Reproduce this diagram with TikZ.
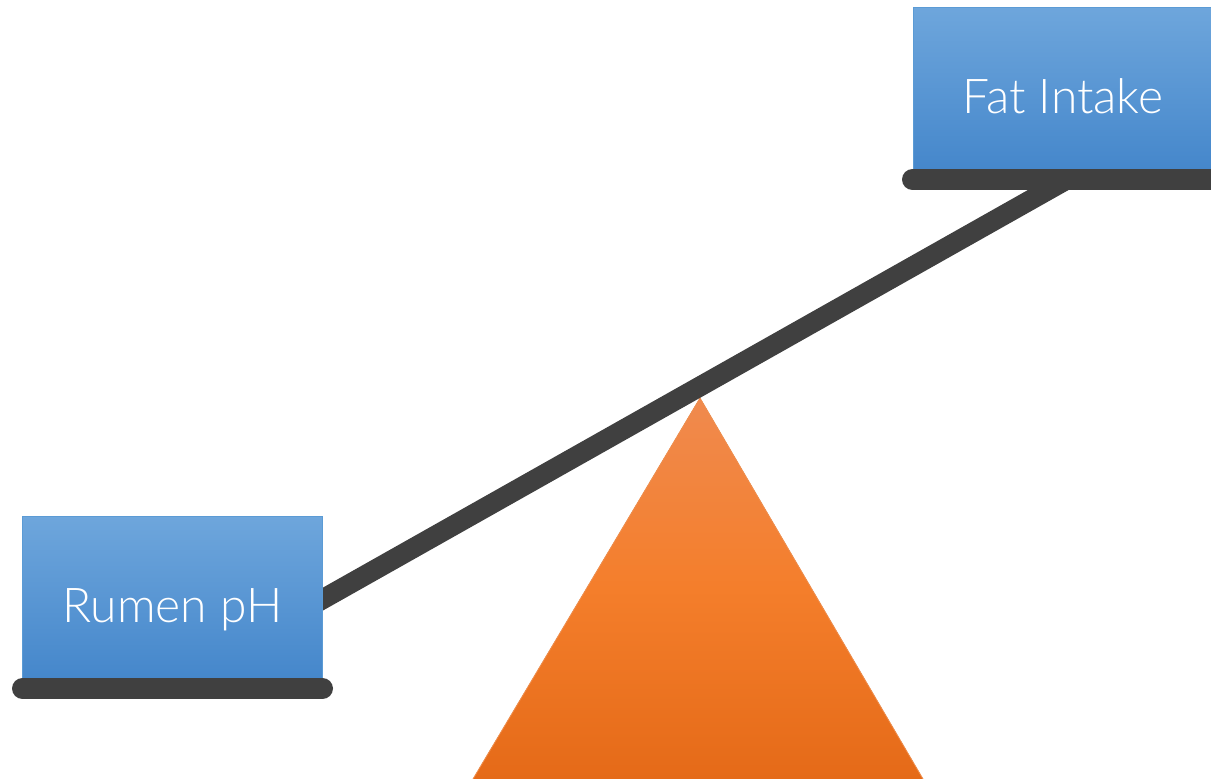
\documentclass[tikz,border=0pt]{standalone}
\usepackage{fontspec}
\newfontfamily\labelfont{Lato}[UprightFont={* Light}]
\definecolor{barcol}{HTML}{404040}
\definecolor{boxtop}{HTML}{6EA6DC}
\definecolor{boxbot}{HTML}{4587CB}
\definecolor{boxedge}{HTML}{5B9BD5}
\definecolor{tritop}{HTML}{F08A4E}
\definecolor{trimid}{HTML}{F47E2B}
\definecolor{tribot}{HTML}{E56A18}
\definecolor{triedge}{HTML}{F3914F}
\tikzset{
  weightbox/.style={draw=boxedge, line width=1pt, top color=boxtop, bottom color=boxbot,
    minimum width=300pt, minimum height=162pt, inner sep=0pt,
    text height=50pt, text depth=0pt, text=white,
    font=\labelfont\fontsize{48}{58}\selectfont},
  plank/.style={barcol, line width=21pt, line cap=round},
  lever/.style={barcol, line width=20pt}
}
\begin{document}
\begin{tikzpicture}[x=1pt,y=-1pt]
\useasboundingbox (0,0) rectangle (1211,779);
% fulcrum
\coordinate (apex) at (700,398);
\coordinate (baseL) at (473,779);
\coordinate (baseR) at (923,779);
\fill[top color=tritop, bottom color=tribot, middle color=trimid]
  (apex) -- (baseR) -- (baseL) -- cycle;
\draw[triedge, line width=0.8pt] (baseL) -- (apex) -- (baseR);
% lever arm
\coordinate (lo) at (300,612);
\coordinate (hi) at (1066,180);
\draw[lever] (lo) -- (hi);
% weights
\node[weightbox] (fat) at (1063,88) {Fat Intake};
\node[weightbox] (ph) at (172.5,597) {Rumen pH};
% trays under the weights
\coordinate (trayHiL) at (912.5,179.5);
\coordinate (trayHiR) at (1230,179.5);
\coordinate (trayLoL) at (22.5,688.5);
\coordinate (trayLoR) at (322.5,688.5);
\draw[plank] (trayHiL) -- (trayHiR);
\draw[plank] (trayLoL) -- (trayLoR);
\end{tikzpicture}
\end{document}
